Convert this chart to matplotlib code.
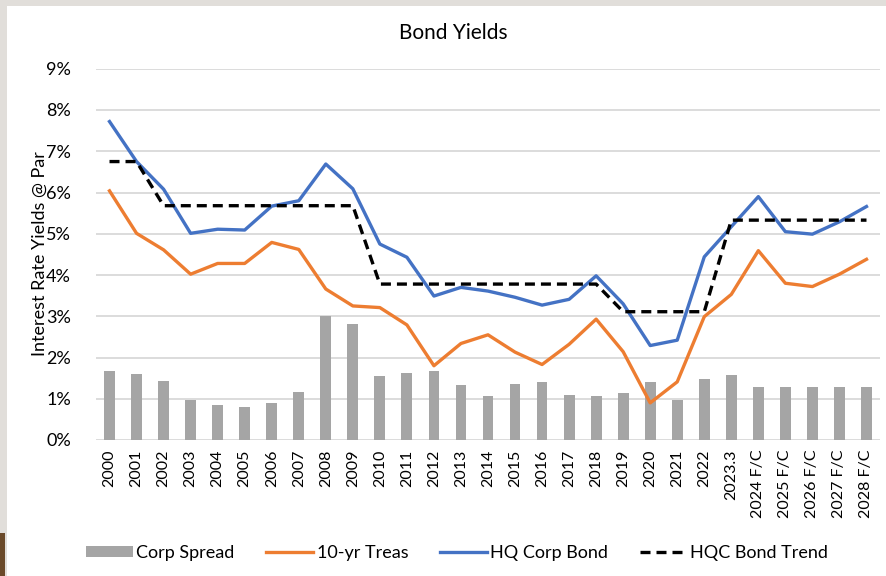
"""
Bond Yields: spread corporativo (barras) + 10-yr Treasury, HQ Corp Bond e a
tendencia em degraus do HQC (linhas).
"""
import numpy as np
import matplotlib
matplotlib.use("Agg")
import matplotlib.pyplot as plt
from matplotlib.patches import Rectangle
from matplotlib.ticker import FuncFormatter

plt.rcParams["font.family"] = ["Lato", "DejaVu Sans"]

YEARS = [str(y) for y in range(2000, 2023)] + ["2023.3"] + \
        [f"{y} F/C" for y in range(2024, 2029)]

CORP_SPREAD = [1.68, 1.60, 1.43, 0.98, 0.84, 0.80, 0.90, 1.16, 3.00, 2.82,
               1.54, 1.62, 1.68, 1.33, 1.07, 1.36, 1.41, 1.09, 1.07, 1.15,
               1.40, 0.96, 1.48, 1.58, 1.28, 1.28, 1.28, 1.28, 1.28]

TREAS_10Y = [6.04, 5.01, 4.61, 4.02, 4.28, 4.28, 4.79, 4.62, 3.66, 3.25,
             3.21, 2.79, 1.80, 2.34, 2.55, 2.13, 1.83, 2.32, 2.93, 2.14,
             0.90, 1.41, 2.99, 3.53, 4.59, 3.80, 3.72, 4.02, 4.38]

HQ_CORP = [7.72, 6.75, 6.08, 5.01, 5.11, 5.09, 5.67, 5.80, 6.69, 6.09,
           4.75, 4.43, 3.49, 3.70, 3.61, 3.46, 3.27, 3.41, 3.98, 3.30,
           2.29, 2.42, 4.44, 5.17, 5.90, 5.05, 4.99, 5.29, 5.66]

HQC_TREND = [6.75, 6.75] + [5.68] * 8 + [3.78] * 9 + [3.11] * 4 + [5.33] * 6

W, H = 887, 576


def main():
    fig = plt.figure(figsize=(W / 100, H / 100), dpi=100, facecolor="#e1deda")
    # area branca do grafico (print de tela com borda cinza)
    fig.patches.append(Rectangle((7 / W, 0), 1, 1 - 6 / H, transform=fig.transFigure,
                                 facecolor="white", edgecolor="none", zorder=-2))
    fig.patches.append(Rectangle((0, 0), 5 / W, 43 / H, transform=fig.transFigure,
                                 facecolor="#6b4a2a", edgecolor="none", zorder=-2))

    ax = fig.add_axes([96 / W, 1 - 440 / H, (880 - 96) / W, (440 - 68.75) / H])
    ax.set_facecolor("none")
    x = np.arange(len(YEARS))

    ax.bar(x, CORP_SPREAD, width=0.4, color="#a5a5a5", label="Corp Spread", zorder=2)
    ax.plot(x, TREAS_10Y, color="#ed7d31", lw=2.4, label="10-yr Treas", zorder=3,
            solid_joinstyle="round")
    ax.plot(x, HQ_CORP, color="#4472c4", lw=2.4, label="HQ Corp Bond", zorder=3,
            solid_joinstyle="round")
    ax.plot(x, HQC_TREND, color="black", lw=2.4, ls=(0, (3.0, 1.8)),
            label="HQC Bond Trend", zorder=4)

    ax.set_xlim(-0.5, len(YEARS) - 0.5)
    ax.set_ylim(0, 9)
    ax.set_yticks(range(0, 10))
    ax.yaxis.set_major_formatter(FuncFormatter(lambda v, _: f"{v:.0f}%"))
    ax.set_xticks(x)
    ax.set_xticklabels(YEARS, rotation=90, fontsize=11.5)
    ax.tick_params(axis="y", labelsize=13, length=0, pad=18)
    ax.tick_params(axis="x", length=0, pad=7)
    ax.grid(axis="y", color="#d9d9d9", lw=1.3, zorder=0)
    ax.set_axisbelow(True)
    for s in ax.spines.values():
        s.set_visible(False)

    fig.text(40 / W, 1 - 254 / H, "Interest Rate Yields @ Par", rotation=90,
             ha="center", va="center", fontsize=13)
    fig.text(453 / W, 1 - 33 / H, "Bond Yields", ha="center", va="center", fontsize=15)

    handles, labels = ax.get_legend_handles_labels()
    order = [labels.index(n) for n in
             ["Corp Spread", "10-yr Treas", "HQ Corp Bond", "HQC Bond Trend"]]
    fig.legend([handles[i] for i in order], [labels[i] for i in order],
               loc="center", bbox_to_anchor=(457 / W, 1 - 553 / H), ncol=4,
               frameon=False, fontsize=13, handlelength=2.6, handleheight=0.55,
               handletextpad=0.2, columnspacing=1.75, borderaxespad=0)

    fig.savefig("out.png", dpi=100, facecolor=fig.get_facecolor())


if __name__ == "__main__":
    main()
